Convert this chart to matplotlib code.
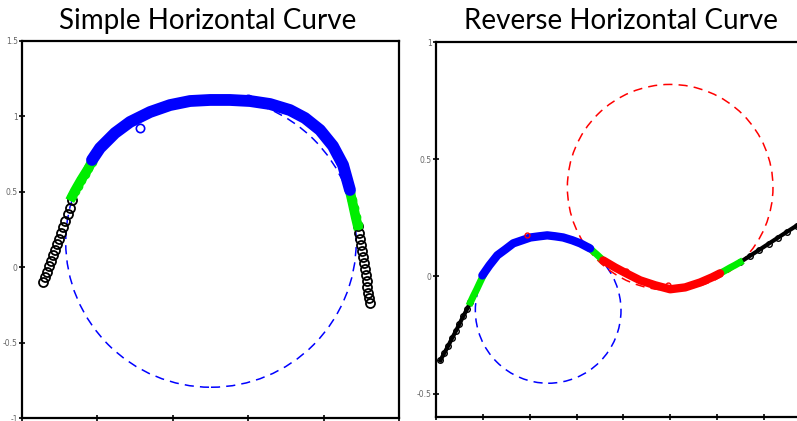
import numpy as np
import matplotlib.pyplot as plt
from matplotlib.patches import Circle

# simple curve (left)
s_black1_x = [-1.862, -1.850, -1.836, -1.822, -1.808, -1.795, -1.781, -1.768, -1.754, -1.740, -1.727, -1.712, -1.698, -1.683, -1.668]
s_black1_y = [-0.098, -0.065, -0.030, 0.005, 0.040, 0.078, 0.114, 0.152, 0.190, 0.228, 0.268, 0.308, 0.350, 0.395, 0.445]
s_green1_x = [-1.668, -1.650, -1.630, -1.608, -1.585, -1.560, -1.536]
s_green1_y = [0.470, 0.505, 0.540, 0.578, 0.615, 0.655, 0.700]
s_blue_x = [-1.536, -1.483, -1.383, -1.284, -1.151, -1.019, -0.886, -0.753, -0.621, -0.488, -0.355,
            -0.223, -0.123, -0.024, 0.062, 0.129, 0.175]
s_blue_y = [0.711, 0.790, 0.890, 0.963, 1.029, 1.075, 1.102, 1.109, 1.109, 1.102, 1.082,
            1.042, 0.989, 0.910, 0.804, 0.678, 0.512]
s_out_x = [-1.218, -0.004, -0.501]
s_out_y = [0.923, 0.883, 1.115]
s_green2_x = [0.175, 0.188, 0.200, 0.212, 0.225]
s_green2_y = [0.500, 0.445, 0.390, 0.335, 0.280]
s_black2_x = [0.228, 0.236, 0.243, 0.249, 0.255, 0.261, 0.267, 0.273, 0.279, 0.285, 0.291, 0.297, 0.302, 0.308]
s_black2_y = [0.270, 0.230, 0.190, 0.150, 0.110, 0.070, 0.030, -0.010, -0.050, -0.090, -0.130, -0.170, -0.205, -0.235]
s_center = (-0.747, 0.167)
s_radius = 0.963

# reverse curve (right)
r_black1_x = [-1.181, -1.165, -1.148, -1.132, -1.115, -1.100, -1.084, -1.068, -1.053]
r_black1_y = [-0.358, -0.328, -0.297, -0.265, -0.233, -0.203, -0.171, -0.141, -0.111]
r_green1_x = [-1.053, -1.040, -1.026, -1.012, -0.998]
r_green1_y = [-0.111, -0.083, -0.055, -0.025, 0.004]
r_blue_x = [-1.002, -0.972, -0.938, -0.904, -0.870, -0.832, -0.797, -0.759, -0.725, -0.691,
            -0.657, -0.618, -0.584, -0.542]
r_blue_y = [0.004, 0.047, 0.090, 0.115, 0.141, 0.154, 0.166, 0.171, 0.175, 0.171,
            0.166, 0.154, 0.141, 0.119]
r_green2_x = [-0.542, -0.528, -0.514, -0.500, -0.486]
r_green2_y = [0.119, 0.106, 0.094, 0.081, 0.068]
r_red_x = [-0.486, -0.435, -0.380, -0.328, -0.264, -0.200, -0.136, -0.072, -0.021, 0.013]
r_red_y = [0.068, 0.038, 0.009, -0.017, -0.038, -0.055, -0.047, -0.026, -0.004, 0.013]
r_out_x = [-0.810, -0.210, -0.390]
r_out_y = [0.178, -0.035, 0.025]
r_green3_x = [0.013, 0.035, 0.056, 0.077, 0.098]
r_green3_y = [0.013, 0.025, 0.037, 0.048, 0.060]
r_black2_x = [0.098, 0.140, 0.180, 0.220, 0.260, 0.300, 0.341]
r_black2_y = [0.060, 0.087, 0.113, 0.139, 0.165, 0.191, 0.217]
r_center_b = (-0.721, -0.145)
r_radius_b = 0.311
r_center_r = (-0.200, 0.380)
r_radius_r = 0.439

GREEN = '#00ee00'
BLUE = '#0000ff'
RED = '#ff0000'

fig = plt.figure(figsize=(7.97, 4.21), dpi=100)
ax1 = fig.add_axes([22/797, 3/421, 377/797, 377/421])
ax2 = fig.add_axes([436/797, 4/421, 370/797, 375/421])

# left panel
ax1.add_patch(Circle(s_center, s_radius, fill=False, ec=BLUE, lw=1.1, ls=(0, (6, 4)), zorder=1))
ax1.plot(s_black1_x, s_black1_y, 'o', mfc='none', mec='black', ms=6.5, mew=1.3, zorder=3)
ax1.plot(s_black2_x, s_black2_y, 'o', mfc='none', mec='black', ms=6.5, mew=1.3, zorder=3)
ax1.plot(s_green1_x, s_green1_y, '-o', color=GREEN, lw=7, mfc='none', mec=GREEN, ms=6, zorder=3)
ax1.plot(s_green2_x, s_green2_y, '-o', color=GREEN, lw=7, mfc='none', mec=GREEN, ms=6, zorder=3)
ax1.plot(s_blue_x, s_blue_y, '-', color=BLUE, lw=8.5, solid_capstyle='round', zorder=3)
ax1.plot(s_out_x, s_out_y, 'o', mfc='none', mec=BLUE, ms=6, mew=1.2, zorder=3)
ax1.set_xlim(-2, 0.5)
ax1.set_ylim(-1, 1.5)
ax1.set_xticks([-2, -1.5, -1, -0.5, 0, 0.5])
ax1.set_xticklabels(['-2', '-1.5', '-1', '-0.5', '0', '0.5'])
ax1.set_yticks([-1, -0.5, 0, 0.5, 1, 1.5])
ax1.set_yticklabels(['-1', '-0.5', '0', '0.5', '1', '1.5'])

# right panel
ax2.add_patch(Circle(r_center_b, r_radius_b, fill=False, ec=BLUE, lw=1.1, ls=(0, (6, 4)), zorder=1))
ax2.add_patch(Circle(r_center_r, r_radius_r, fill=False, ec=RED, lw=1.1, ls=(0, (6, 4)), zorder=1))
ax2.plot(r_black1_x, r_black1_y, '-o', color='black', lw=3, mfc='none', mec='black', ms=4, zorder=3)
ax2.plot(r_black2_x, r_black2_y, '-o', color='black', lw=3, mfc='none', mec='black', ms=4, zorder=3)
ax2.plot(r_green1_x, r_green1_y, '-', color=GREEN, lw=5, zorder=3)
ax2.plot(r_green2_x, r_green2_y, '-', color=GREEN, lw=5, zorder=3)
ax2.plot(r_green3_x, r_green3_y, '-', color=GREEN, lw=5, zorder=3)
ax2.plot(r_blue_x, r_blue_y, '-', color=BLUE, lw=6, solid_capstyle='round', zorder=3)
ax2.plot(r_red_x, r_red_y, '-', color=RED, lw=6, solid_capstyle='round', zorder=3)
ax2.plot(r_out_x, r_out_y, 'o', mfc='none', ms=3.5, mec=RED, zorder=3)
ax2.set_xlim(-1.2, 0.38)
ax2.set_ylim(-0.6, 1.0)
ax2.set_xticks([-1.2, -1, -0.8, -0.6, -0.4, -0.2, 0, 0.2])
ax2.set_xticklabels(['-1.2', '-1', '-0.8', '-0.6', '-0.4', '-0.2', '0', '0.2'])
ax2.set_yticks([-0.5, 0, 0.5, 1])
ax2.set_yticklabels(['-0.5', '0', '0.5', '1'])

for ax in (ax1, ax2):
    for sp in ax.spines.values():
        sp.set_linewidth(1.6)
    ax.tick_params(direction='inout', length=4, width=1.2, labelsize=5.5,
                   labelcolor='#666666', pad=1)

# the zero tick on the right panel is yellow in the original
ax2.yaxis.get_major_ticks()[1].tick1line.set_color('yellow')

fig.text(208/797, 1 - 21/421, 'Simple Horizontal Curve', ha='center', va='center',
         fontsize=20, family='Lato')
fig.text(621/797, 1 - 21/421, 'Reverse Horizontal Curve', ha='center', va='center',
         fontsize=20, family='Lato')

fig.savefig('out.png', dpi=100)
